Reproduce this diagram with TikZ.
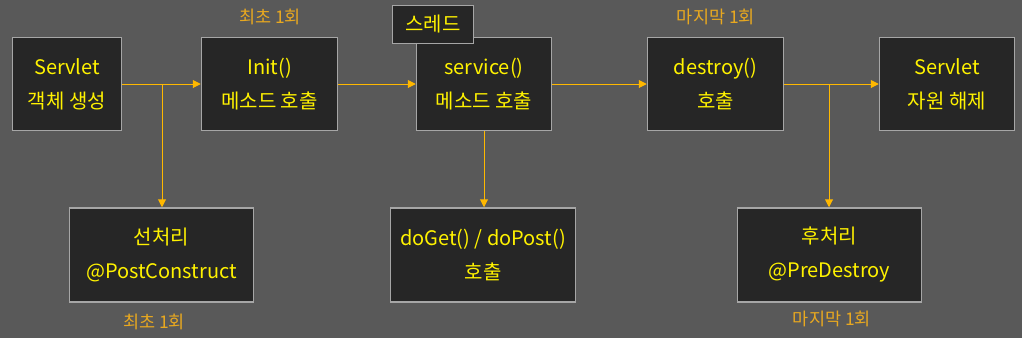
\documentclass[tikz,border=0pt]{standalone}
\usepackage{fontspec}
\setmainfont{Noto Sans CJK KR}
\usetikzlibrary{arrows.meta}
\definecolor{bg}{HTML}{595959}
\definecolor{boxfill}{HTML}{262626}
\definecolor{boxline}{HTML}{A6A6A6}
\definecolor{txt}{HTML}{FFF200}
\definecolor{lblc}{HTML}{E8A820}
\definecolor{arr}{HTML}{FFB800}
\begin{document}
\begin{tikzpicture}[x=1pt,y=-1pt,
  stepbox/.style={draw=boxline, line width=1.5pt, fill=boxfill, text=txt, align=center, inner sep=0pt, minimum height=93pt, font=\fontsize{20}{34}\selectfont},
  note/.style={text=lblc, font=\fontsize{17.5}{19}\selectfont, inner sep=0pt},
  conn/.style={draw=arr, line width=1pt, -{Triangle[length=8pt,width=8pt]}}]
\fill[bg] (0,0) rectangle (1022,338);
\useasboundingbox (0,0) rectangle (1022,338);
% top row
\node[stepbox, minimum width=109pt] (s1) at (67,84) {Servlet\\객체 생성};
\node[stepbox, minimum width=136pt] (init) at (269.5,84) {Init()\\메소드 호출};
\node[stepbox, minimum width=135pt] (svc) at (484,84) {service()\\메소드 호출};
\node[stepbox, minimum width=136pt] (dst) at (715.5,84) {destroy()\\호출};
\node[stepbox, minimum width=135pt] (s2) at (947,84) {Servlet\\자원 해제};
% bottom row
\node[stepbox, minimum width=184pt, minimum height=94pt] (pre) at (161.5,255) {선처리\\@PostConstruct};
\node[stepbox, minimum width=185pt, minimum height=94pt] (doget) at (483,255) {doGet() / doPost()\\호출};
\node[stepbox, minimum width=184pt, minimum height=94pt] (post) at (829.5,255) {후처리\\@PreDestroy};
% thread tag
\node[stepbox, minimum width=81pt, minimum height=38pt] (thr) at (433,24.5) {스레드};
% labels
\node[note] (l1) at (270,17) {최초 1회};
\node[note] (l2) at (716,17) {마지막 1회};
\node[note] (l3) at (154,322) {최초 1회};
\node[note] (l4) at (832,319) {마지막 1회};
% connectors
\draw[conn] (s1) -- (init);
\draw[conn] (init) -- (svc);
\draw[conn] (svc) -- (dst);
\draw[conn] (dst) -- (s2);
\coordinate (b1) at (162,84);
\coordinate (b2) at (829,84);
\draw[conn] (b1) -- (b1 |- pre.north);
\draw[conn] (svc.south) -- (svc.south |- doget.north);
\draw[conn] (b2) -- (b2 |- post.north);
\end{tikzpicture}
\end{document}
